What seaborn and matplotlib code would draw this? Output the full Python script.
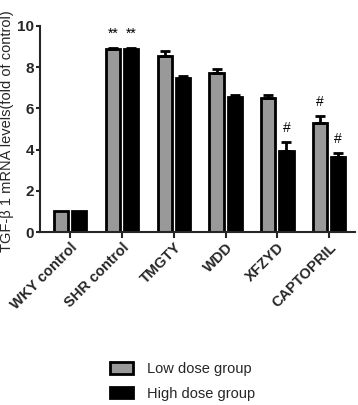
import matplotlib
matplotlib.use("Agg")
import matplotlib.pyplot as plt
import seaborn as sns
import pandas as pd

groups = ["WKY control", "SHR control", "TMGTY", "WDD", "XFZYD", "CAPTOPRIL"]
low_dose = [1.0, 8.87, 8.54, 7.73, 6.52, 5.27]
high_dose = [1.0, 8.87, 7.46, 6.57, 3.93, 3.66]
low_err = [0.0, 0.08, 0.22, 0.2, 0.15, 0.36]
high_err = [0.0, 0.08, 0.12, 0.06, 0.45, 0.16]
low_mark = ["", "**", "", "", "", "#"]
high_mark = ["", "**", "", "", "#", "#"]
series = ["Low dose group", "High dose group"]

df = pd.DataFrame({
    "group": groups * 2,
    "dose": [series[0]] * 6 + [series[1]] * 6,
    "value": low_dose + high_dose,
})

sns.set_style("ticks")
plt.rcParams["font.family"] = ["Liberation Sans", "DejaVu Sans"]

fig = plt.figure(figsize=(3.58, 4.05), dpi=100)
ax = fig.add_axes([0.112, 0.427, 0.88, 0.509])

sns.barplot(data=df, x="group", y="value", hue="dose", order=groups,
            hue_order=series, palette=["#999999", "#000000"],
            width=0.7, gap=0.22, edgecolor="black", linewidth=2,
            errorbar=None, legend=True, ax=ax)

bars = ax.patches[:12]
for i, b in enumerate(bars):
    k = i % 6
    err = low_err[k] if i < 6 else high_err[k]
    mark = low_mark[k] if i < 6 else high_mark[k]
    val = b.get_height()
    xc = b.get_x() + b.get_width() / 2
    if err > 0:
        ax.errorbar(xc, val, yerr=[[0], [err]], fmt="none", ecolor="black",
                    elinewidth=2, capsize=3.5, capthick=2, zorder=1)
    if mark:
        ax.text(xc, val + err + 0.35, mark, ha="center", va="bottom",
                fontsize=10, color="black")

ax.set_ylim(0, 10)
ax.set_xlim(-0.58, 5.5)
ax.set_yticks([0, 2, 4, 6, 8, 10])
ax.set_xlabel("")
ax.set_ylabel("TGF-β 1 mRNA levels(fold of control)", fontsize=10.5)
ax.yaxis.set_label_coords(-0.083, 0.49)
ax.tick_params(axis="y", labelsize=11, width=1.5, length=3, pad=1.5)
ax.tick_params(axis="x", labelsize=10.5, width=1.5, length=4, pad=2)
for lab in ax.get_yticklabels():
    lab.set_fontweight("bold")
for lab in ax.get_xticklabels():
    lab.set_fontweight("bold")
    lab.set_rotation(45)
    lab.set_ha("right")
    lab.set_rotation_mode("anchor")
for s in ["left", "bottom"]:
    ax.spines[s].set_linewidth(1.5)
sns.despine(ax=ax)

handles, labels = ax.get_legend_handles_labels()
ax.legend_.remove()
fig.legend(handles, labels, loc="center", bbox_to_anchor=(0.51, 0.058),
           frameon=False, fontsize=10.5, handlelength=1.6, handleheight=0.8,
           labelspacing=0.75, handletextpad=1.0)

fig.savefig("out.png", dpi=100)
